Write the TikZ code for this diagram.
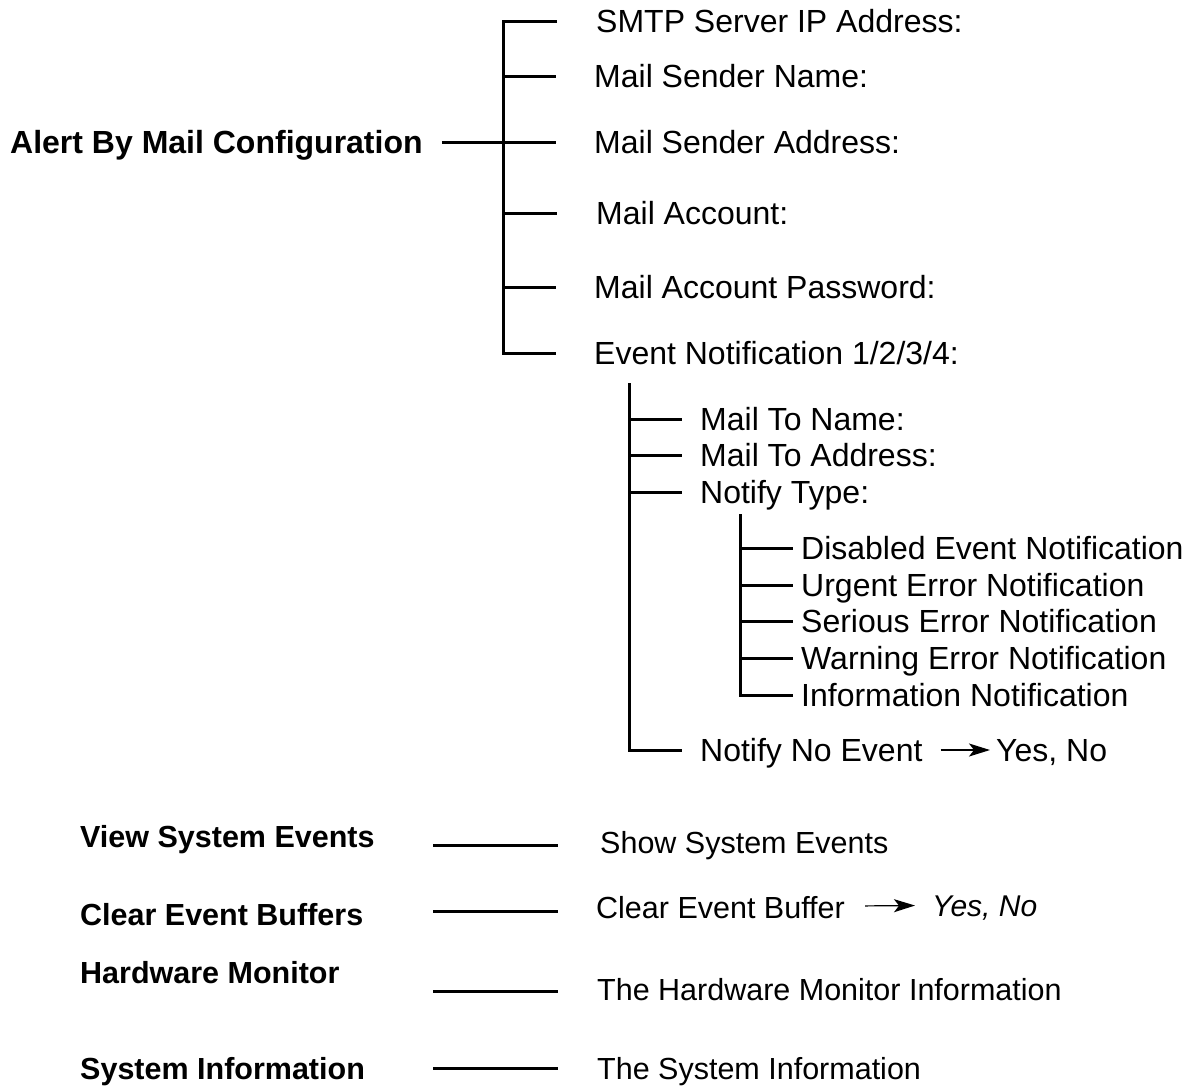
\documentclass[tikz,border=0pt]{standalone}
\usepackage{fontspec}
\setmainfont{Liberation Sans}
\usepackage{tikz}
\usetikzlibrary{arrows.meta, positioning}
\tikzstyle{leaf}   = [anchor=west, inner sep=0pt, text height=23pt, text depth=0pt,
                      font=\fontsize{32}{38}\selectfont]
\tikzstyle{topic}  = [leaf, font=\fontsize{32}{38}\selectfont\bfseries]
\tikzstyle{menu}   = [leaf, text height=22pt, font=\fontsize{30.5}{36}\selectfont]
\tikzstyle{menuhd} = [menu, font=\fontsize{30.5}{36}\selectfont\bfseries]
\tikzstyle{branch} = [line width=3pt, line join=miter]
\tikzstyle{arrow}  = [line width=1.2pt, -{Stealth[length=21pt, width=13pt, inset=5pt]}]

\begin{document}
\begin{tikzpicture}[x=1pt, y=-1pt]
\useasboundingbox (0,0) rectangle (1195,1088);

% alert by mail
\node (alert)  [topic] at (10,142)  {Alert By Mail Configuration};
\node (smtp)   [leaf]  at (596,21)  {SMTP Server IP Address:};
\node (sname)  [leaf]  at (594,76)  {Mail Sender Name:};
\node (saddr)  [leaf]  at (594,142) {Mail Sender Address:};
\node (acct)   [leaf]  at (596,213) {Mail Account:};
\node (pass)   [leaf]  at (594,287) {Mail Account Password:};
\node (event)  [leaf]  at (594,353) {Event Notification 1/2/3/4:};

\coordinate (a1) at (503,21);
\coordinate (a2) at (503,76);
\coordinate (a3) at (503,142);
\coordinate (a4) at (503,213);
\coordinate (a5) at (503,287);
\coordinate (a6) at (503,353);

\draw [branch, shorten <=39pt, shorten >=38pt] (smtp) -- (a1) -- (a6) -- (event);
\draw [branch, shorten >=38pt] (a2) -- (sname);
\draw [branch, shorten <=19pt, shorten >=38pt] (alert) -- (a3) -- (saddr);
\draw [branch, shorten >=39pt] (a4) -- (acct);
\draw [branch, shorten >=38pt] (a5) -- (pass);

% event notification
\node (toname) [leaf]  at (700,419) {Mail To Name:};
\node (toaddr) [leaf]  at (700,455) {Mail To Address:};
\node (ntype)  [leaf]  at (700,492) {Notify Type:};
\node (noev)   [leaf]  at (700,750) {Notify No Event};
\node (yesa)   [leaf]  at (996,750) {Yes, No};

\coordinate (b0) at (629,383);
\coordinate (b1) at (629,419);
\coordinate (b2) at (629,455);
\coordinate (b3) at (629,492);
\coordinate (b4) at (629,750);

\draw [branch, shorten >=18pt] (b0) -- (b4) -- (noev);
\draw [branch, shorten >=18pt] (b1) -- (toname);
\draw [branch, shorten >=18pt] (b2) -- (toaddr);
\draw [branch, shorten >=18pt] (b3) -- (ntype);
\draw [arrow, shorten <=18pt, shorten >=6pt] (noev) -- (yesa);

% notify type
\node (disab)  [leaf]  at (801,548) {Disabled Event Notification};
\node (urgent) [leaf]  at (801,585) {Urgent Error Notification};
\node (serious)[leaf]  at (801,621) {Serious Error Notification};
\node (warn)   [leaf]  at (801,658) {Warning Error Notification};
\node (info)   [leaf]  at (801,695) {Information Notification};

\coordinate (c0) at (740,514);
\coordinate (c1) at (740,548);
\coordinate (c2) at (740,585);
\coordinate (c3) at (740,621);
\coordinate (c4) at (740,658);
\coordinate (c5) at (740,695);

\draw [branch, shorten >=8pt] (c0) -- (c5) -- (info);
\draw [branch, shorten >=8pt] (c1) -- (disab);
\draw [branch, shorten >=8pt] (c2) -- (urgent);
\draw [branch, shorten >=8pt] (c3) -- (serious);
\draw [branch, shorten >=8pt] (c4) -- (warn);

% other menus
\node (view)   [menuhd] at (80,836)  {View System Events};
\node (show)   [menu]   at (600,842) {Show System Events};
\node (clear)  [menuhd] at (80,914)  {Clear Event Buffers};
\node (buffer) [menu]   at (596,907) {Clear Event Buffer};
\node (yesb)   [menu, font=\fontsize{30}{36}\selectfont\itshape] at (932,905) {Yes, No};
\node (hwmon)  [menuhd] at (80,972)  {Hardware Monitor};
\node (hwinfo) [menu]   at (597,989) {The Hardware Monitor Information};
\node (sysinf) [menuhd] at (80,1068) {System Information};
\node (sysall) [menu]   at (597,1068){The System Information};

\coordinate (v0) at (433,845);  \coordinate (v1) at (558,845);
\coordinate (e0) at (433,911);  \coordinate (e1) at (558,911);
\coordinate (h0) at (433,991);  \coordinate (h1) at (558,991);
\coordinate (s0) at (433,1068); \coordinate (s1) at (558,1068);

\draw [branch] (v0) -- (v1);
\draw [branch] (e0) -- (e1);
\draw [branch] (h0) -- (h1);
\draw [branch] (s0) -- (s1);
\draw [arrow, shorten <=20pt, shorten >=17pt] (buffer) -- (yesb);

\end{tikzpicture}
\end{document}
